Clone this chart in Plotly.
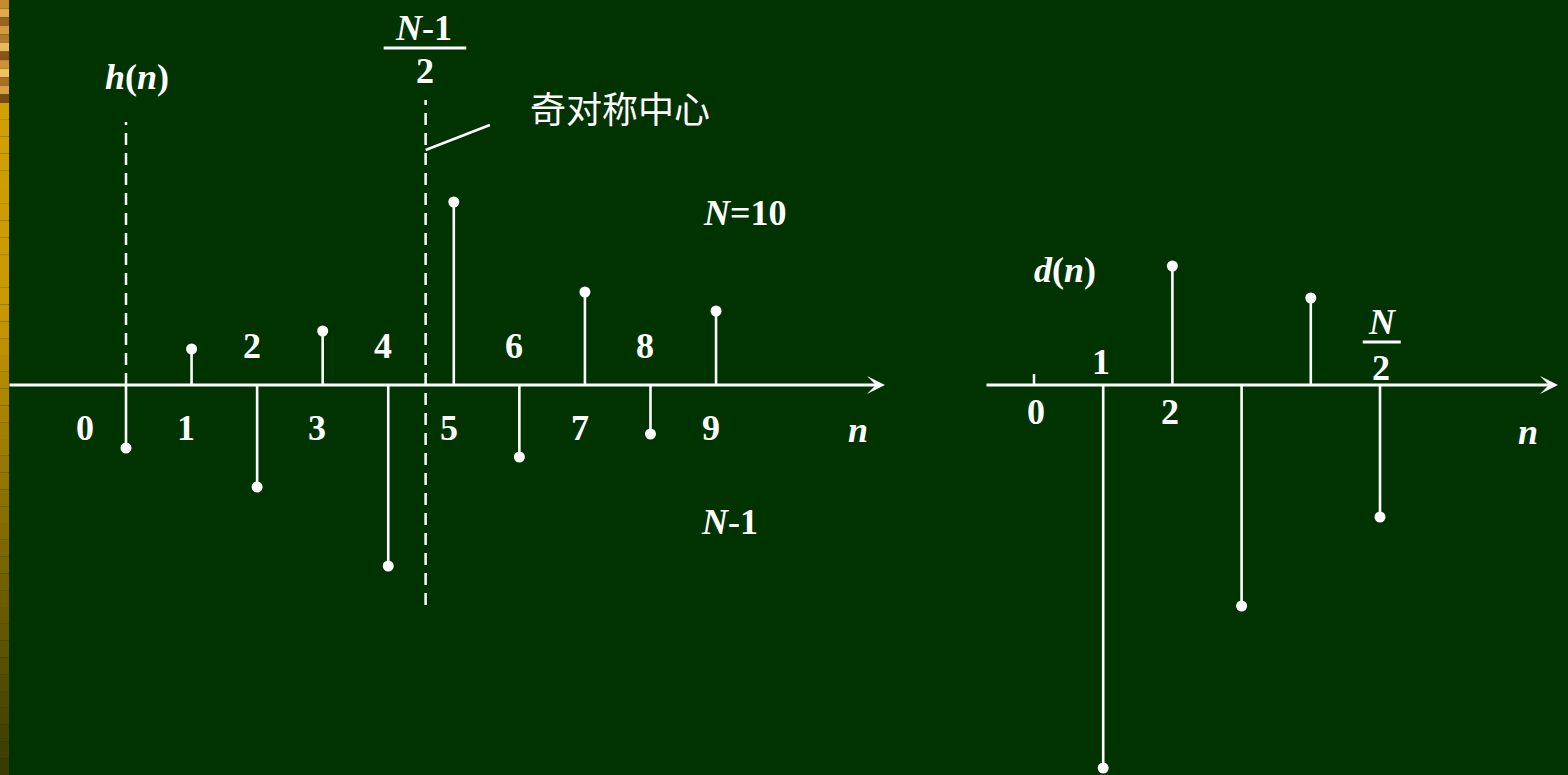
import plotly.graph_objects as go

# ---------------- data ----------------
n_h = [0, 1, 2, 3, 4, 5, 6, 7, 8, 9]
h_vals = [-0.63, 0.36, -1.02, 0.54, -1.81, 1.83, -0.72, 0.93, -0.49, 0.74]
h_tick_labels = ["0", "1", "2", "3", "4", "5", "6", "7", "8", "9"]

n_d = [1, 2, 3, 4, 5]
d_vals = [-3.83, 1.19, -2.21, 0.87, -1.32]
d_tick_n = [0, 1, 2]
d_tick_labels = ["0", "1", "2"]

N = 10
center_n = 4.57          # (N-1)/2 dashed line as drawn

# ---------------- layout constants ----------------
W, H = 1568, 775
AX_Y = 385               # baseline pixel row
YU = 100.0               # pixels per y unit
y_range = [-(H - AX_Y) / YU, AX_Y / YU]

L_x0, L_x1, L_org, L_unit = 8, 885, 126, 65.56
R_x0, R_x1, R_org, R_unit = 985, 1558, 1034, 69.2


def xr(x0, x1, org, unit):
    return [(x0 - org) / unit, (x1 - org) / unit]


L_range = xr(L_x0, L_x1, L_org, L_unit)
R_range = xr(R_x0, R_x1, R_org, R_unit)

WHITE = "white"
BG = "#003300"
SERIF = "Liberation Serif"
FS = 36


def stem_xy(ns, vs):
    xs, ys = [], []
    for n, v in zip(ns, vs):
        xs += [n, n, None]
        ys += [0, v, None]
    return xs, ys


fig = go.Figure()

hx, hy = stem_xy(n_h, h_vals)
fig.add_trace(go.Scatter(x=hx, y=hy, mode="lines", line=dict(color=WHITE, width=2.6),
                         xaxis="x", yaxis="y", hoverinfo="skip", showlegend=False))
fig.add_trace(go.Scatter(x=n_h, y=h_vals, mode="markers",
                         marker=dict(color=WHITE, size=11, line=dict(width=0)),
                         xaxis="x", yaxis="y", showlegend=False, cliponaxis=False))

dx, dy = stem_xy(n_d, d_vals)
fig.add_trace(go.Scatter(x=dx, y=dy, mode="lines", line=dict(color=WHITE, width=2.6),
                         xaxis="x2", yaxis="y2", hoverinfo="skip", showlegend=False))
fig.add_trace(go.Scatter(x=n_d, y=d_vals, mode="markers",
                         marker=dict(color=WHITE, size=11, line=dict(width=0)),
                         xaxis="x2", yaxis="y2", showlegend=False, cliponaxis=False))

shapes = []
# left decorative strip: textured top part
top_px = 103
tex = ["#C48A2E", "#E0A84A", "#9A6420", "#D49A3A", "#B07A28", "#E8B85A", "#8A5418",
       "#CC9236", "#F0C060", "#A86E22", "#D8A040", "#7A4A14"]
for i, c in enumerate(tex):
    y0px = top_px * i / len(tex)
    y1px = top_px * (i + 1) / len(tex)
    shapes.append(dict(type="rect", xref="paper", yref="paper", x0=0, x1=9 / W,
                       y0=1 - y1px / H, y1=1 - y0px / H, fillcolor=c,
                       line=dict(width=0), layer="below"))
# gradient part
bands = 40
for i in range(bands):
    t = i / (bands - 1)
    if t < 0.3:
        k = t / 0.3
        col = (int(212 - 10 * k), int(160 - 8 * k), 0)
    else:
        k = (t - 0.3) / 0.7
        col = (int(202 - 145 * k), int(152 - 92 * k), 0)
    y0px = top_px + (H - top_px) * i / bands
    y1px = top_px + (H - top_px) * (i + 1) / bands
    shapes.append(dict(type="rect", xref="paper", yref="paper", x0=0, x1=9 / W,
                       y0=1 - y1px / H, y1=1 - y0px / H,
                       fillcolor="rgb(%d,%d,%d)" % col, line=dict(width=0), layer="below"))

# dashed line at n = 0
shapes.append(dict(type="line", xref="x", yref="y", x0=0, x1=0, y0=0, y1=2.63,
                   line=dict(color=WHITE, width=2.5, dash="12px,8px")))
# dashed symmetry line
shapes.append(dict(type="line", xref="x", yref="y", x0=center_n, x1=center_n, y0=-2.20, y1=2.85,
                   line=dict(color=WHITE, width=2.5, dash="12px,8px")))
# leader line
shapes.append(dict(type="line", xref="x", yref="y", x0=center_n, x1=5.55, y0=2.35, y1=2.60,
                   line=dict(color=WHITE, width=2.5)))
# fraction bar (N-1)/2
shapes.append(dict(type="line", xref="x", yref="y", x0=center_n - 0.64, x1=center_n + 0.62,
                   y0=3.37, y1=3.37, line=dict(color=WHITE, width=3)))
# fraction bar N/2
shapes.append(dict(type="line", xref="x2", yref="y2", x0=4.75, x1=5.3,
                   y0=0.43, y1=0.43, line=dict(color=WHITE, width=3)))
# tick at n = 0 on the right axis
shapes.append(dict(type="line", xref="x2", yref="y2", x0=0, x1=0, y0=0, y1=0.11,
                   line=dict(color=WHITE, width=2.5)))

ann = []


def txt(x, y, s, xref="x", yref="y", size=FS, family=SERIF):
    ann.append(dict(x=x, y=y, xref=xref, yref=yref, text=s, showarrow=False,
                    font=dict(family=family, size=size, color=WHITE),
                    xanchor="center", yanchor="middle"))


# axis arrows
ann.append(dict(x=L_range[1], y=0, ax=L_range[0], ay=0, xref="x", yref="y",
                axref="x", ayref="y", text="", showarrow=True, arrowhead=3,
                arrowsize=1, arrowwidth=3, arrowcolor=WHITE))
ann.append(dict(x=R_range[1], y=0, ax=R_range[0], ay=0, xref="x2", yref="y2",
                axref="x2", ayref="y2", text="", showarrow=True, arrowhead=3,
                arrowsize=1, arrowwidth=3, arrowcolor=WHITE))

# left tick labels
for n, lab in zip(n_h, h_tick_labels):
    if n == 0:
        txt(n - 0.62, -0.43, "<b>%s</b>" % lab)
    elif n % 2 == 1:
        txt(n - 0.08, -0.43, "<b>%s</b>" % lab)
    else:
        txt(n - 0.08, 0.39, "<b>%s</b>" % lab)

txt(11.17, -0.45, "<b><i>n</i></b>")
txt(0.17, 3.08, "<b><i>h</i>(<i>n</i>)</b>")
txt(center_n - 0.03, 3.57, "<b><i>N</i>-1</b>")
txt(center_n - 0.01, 3.14, "<b>2</b>")
txt(7.535, 2.78, "奇对称中心", size=36, family="Noto Sans CJK SC")
txt(9.44, 1.72, "<b><i>N</i>=10</b>")
txt(9.21, -1.37, "<b><i>N</i>-1</b>")

# right labels
for n, lab in zip(d_tick_n, d_tick_labels):
    if n == 1:
        txt(n - 0.03, 0.23, "<b>%s</b>" % lab, "x2", "y2")
    else:
        txt(n + 0.03 if n == 0 else n - 0.03, -0.27, "<b>%s</b>" % lab, "x2", "y2")

txt(7.14, -0.47, "<b><i>n</i></b>", "x2", "y2")
txt(0.45, 1.15, "<b><i>d</i>(<i>n</i>)</b>", "x2", "y2")
txt(5.04, 0.63, "<b><i>N</i></b>", "x2", "y2")
txt(5.01, 0.17, "<b>2</b>", "x2", "y2")

ax_common = dict(showgrid=False, zeroline=False, showticklabels=False, showline=False,
                 ticks="", fixedrange=True)

fig.update_layout(
    width=W, height=H, margin=dict(l=0, r=0, t=0, b=0),
    paper_bgcolor=BG, plot_bgcolor=BG, showlegend=False,
    xaxis=dict(domain=[L_x0 / W, L_x1 / W], range=L_range, **ax_common),
    yaxis=dict(domain=[0, 1], range=y_range, **ax_common),
    xaxis2=dict(domain=[R_x0 / W, R_x1 / W], range=R_range, anchor="y2", **ax_common),
    yaxis2=dict(domain=[0, 1], range=y_range, anchor="x2", **ax_common),
    shapes=shapes, annotations=ann,
)

fig.write_html(
    "out.html",
    config={"displayModeBar": False},
    post_script="document.body.style.margin='0';document.body.style.overflow='hidden';"
                "document.body.style.background='#003300';",
)
